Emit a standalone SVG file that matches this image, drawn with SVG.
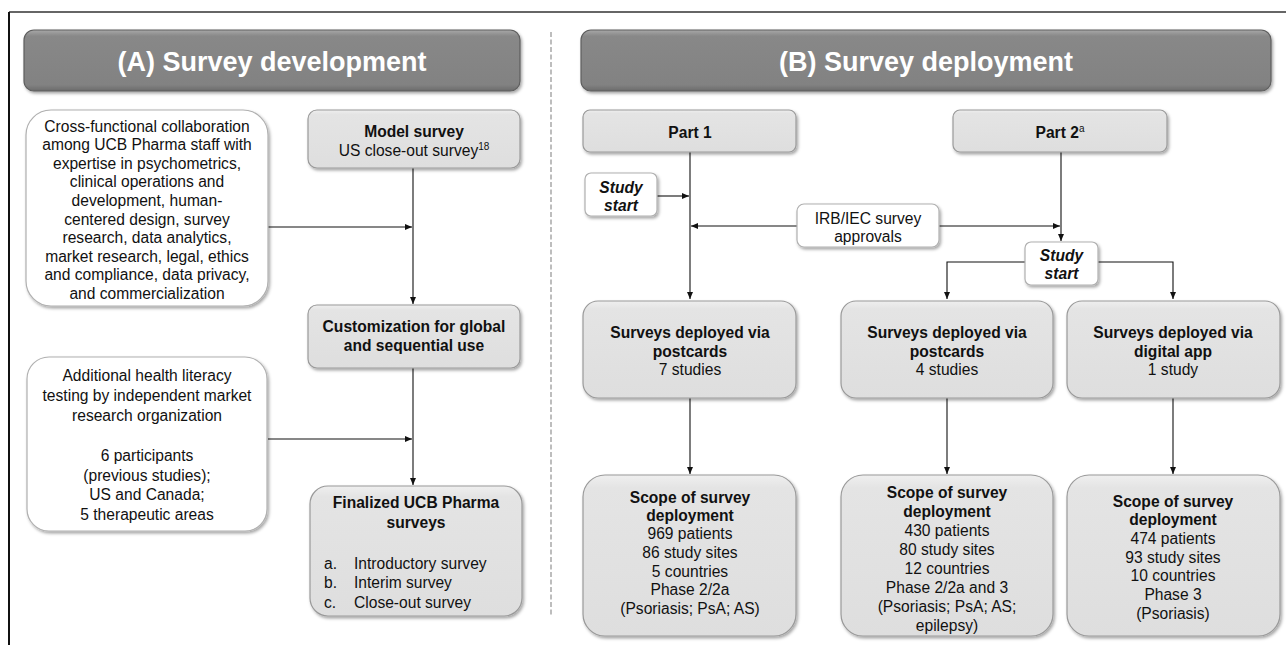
<svg xmlns="http://www.w3.org/2000/svg" width="1286" height="645" viewBox="0 0 1286 645">
<style>
text{font-family:"Liberation Sans",Arial,sans-serif;font-size:15.6px;fill:#111;text-anchor:middle}
.b{font-weight:bold}
.bi{font-weight:bold;font-style:italic}
.hdr{font-size:27px;font-weight:bold;fill:#fff}
.gbox{fill:url(#gg);stroke:#9a9a9a;stroke-width:1.2;filter:url(#sh)}
.wbox{fill:#fff;stroke:#b0b0b0;stroke-width:1.2;filter:url(#sh)}
.hbox{fill:url(#hg);stroke:#5e5e5e;stroke-width:1.2;filter:url(#sh)}
.c{fill:none;stroke:#111;stroke-width:1.1;marker-end:url(#ah)}
.s{text-anchor:start}
</style>
<defs>
<linearGradient id="gg" x1="0" y1="0" x2="0" y2="1">
<stop offset="0" stop-color="#efefef"/><stop offset="0.08" stop-color="#e4e4e4"/><stop offset="1" stop-color="#dedede"/>
</linearGradient>
<linearGradient id="hg" x1="0" y1="0" x2="0" y2="1">
<stop offset="0" stop-color="#a8a8a8"/><stop offset="0.1" stop-color="#888"/><stop offset="0.9" stop-color="#828282"/><stop offset="1" stop-color="#6a6a6a"/>
</linearGradient>
<filter id="sh" x="-5%" y="-10%" width="112%" height="125%">
<feDropShadow dx="1.5" dy="2" stdDeviation="1.5" flood-color="#000" flood-opacity="0.35"/>
</filter>
<marker id="ah" markerWidth="8" markerHeight="8" refX="7" refY="4" orient="auto" markerUnits="userSpaceOnUse">
<path d="M0,1 L7,4 L0,7 Z" fill="#111"/>
</marker>
</defs>
<rect x="0" y="0" width="1286" height="645" fill="#fff"/>
<g id="frame">
<line x1="9" y1="12" x2="1286" y2="12" stroke="#333" stroke-width="1.5"/>
<line x1="9" y1="12" x2="9" y2="645" stroke="#111" stroke-width="2"/>
<line x1="551" y1="32" x2="551" y2="615" stroke="#bdbdbd" stroke-width="2" stroke-dasharray="5,2.5"/>
</g>
<g id="connectors">
<path class="c" d="M413,168 V304"/>
<path class="c" d="M268,227 H412"/>
<path class="c" d="M413,368 V485"/>
<path class="c" d="M268,439 H412"/>
<path class="c" d="M690,152 V299"/>
<path class="c" d="M657,196 H689"/>
<path class="c" d="M797,226 H691"/>
<path class="c" d="M939,226 H1060"/>
<path class="c" d="M1061,152 V241"/>
<path class="c" d="M1025,262 H947 V299"/>
<path class="c" d="M1098,262 H1173 V299"/>
<path class="c" d="M690,398 V474"/>
<path class="c" d="M947,398 V474"/>
<path class="c" d="M1173,398 V474"/>
</g>
<g id="headerA">
<rect class="hbox" x="24" y="30" width="496" height="61" rx="10"/>
<text class="hdr" x="272" y="71">(A) Survey development</text>
</g>
<g id="headerB">
<rect class="hbox" x="581" y="30" width="690" height="61" rx="10"/>
<text class="hdr" x="926" y="71">(B) Survey deployment</text>
</g>
<g id="crossfunctional">
<rect class="wbox" x="26" y="110" width="242" height="196" rx="25"/>
<text x="147" y="131.5">Cross-functional collaboration</text>
<text x="147" y="150.1">among UCB Pharma staff with</text>
<text x="147" y="168.7">expertise in psychometrics,</text>
<text x="147" y="187.3">clinical operations and</text>
<text x="147" y="205.9">development, human-</text>
<text x="147" y="224.5">centered design, survey</text>
<text x="147" y="243.1">research, data analytics,</text>
<text x="147" y="261.7">market research, legal, ethics</text>
<text x="147" y="280.3">and compliance, data privacy,</text>
<text x="147" y="298.9">and commercialization</text>
</g>
<g id="modelsurvey">
<rect class="gbox" x="308" y="110" width="212" height="58" rx="9"/>
<text class="b" x="414" y="137">Model survey</text>
<text x="414" y="156">US close-out survey<tspan font-size="10" dy="-6">18</tspan></text>
</g>
<g id="customization">
<rect class="gbox" x="308" y="305" width="212" height="63" rx="9"/>
<text class="b" x="414" y="331.5">Customization for global</text>
<text class="b" x="414" y="351">and sequential use</text>
</g>
<g id="healthliteracy">
<rect class="wbox" x="27" y="357" width="240" height="174" rx="22"/>
<text x="147" y="380.5">Additional health literacy</text>
<text x="147" y="400.5">testing by independent market</text>
<text x="147" y="420.5">research organization</text>
<text x="147" y="460.5">6 participants</text>
<text x="147" y="480.5">(previous studies);</text>
<text x="147" y="500">US and Canada;</text>
<text x="147" y="520">5 therapeutic areas</text>
</g>
<g id="finalized">
<rect class="gbox" x="310" y="486" width="212" height="130" rx="18"/>
<text class="b" x="416" y="507.5">Finalized UCB Pharma</text>
<text class="b" x="416" y="527.5">surveys</text>
<text class="s" x="324" y="568.5">a.</text><text class="s" x="354" y="568.5">Introductory survey</text>
<text class="s" x="324" y="588">b.</text><text class="s" x="354" y="588">Interim survey</text>
<text class="s" x="324" y="607.5">c.</text><text class="s" x="354" y="607.5">Close-out survey</text>
</g>
<g id="part1">
<rect class="gbox" x="583" y="110" width="213" height="42" rx="7"/>
<text class="b" x="690" y="137.5">Part 1</text>
</g>
<g id="part2">
<rect class="gbox" x="953" y="110" width="214" height="42" rx="7"/>
<text class="b" x="1060" y="137.5">Part 2<tspan font-size="10" font-weight="normal" dy="-6">a</tspan></text>
</g>
<g id="studystart1">
<rect class="wbox" x="585" y="173" width="72" height="43" rx="6"/>
<text class="bi" x="621" y="192.5">Study</text>
<text class="bi" x="621" y="210.5">start</text>
</g>
<g id="irb">
<rect class="wbox" x="797" y="204" width="142" height="43" rx="7"/>
<text x="868" y="223.5">IRB/IEC survey</text>
<text x="868" y="242">approvals</text>
</g>
<g id="studystart2">
<rect class="wbox" x="1025" y="242" width="73" height="43" rx="6"/>
<text class="bi" x="1061.5" y="260.5">Study</text>
<text class="bi" x="1061.5" y="279">start</text>
</g>
<g id="postcards1">
<rect class="gbox" x="583" y="301" width="213" height="97" rx="15"/>
<text class="b" x="690" y="337.5">Surveys deployed via</text>
<text class="b" x="690" y="356.5">postcards</text>
<text x="690" y="374.5">7 studies</text>
</g>
<g id="postcards2">
<rect class="gbox" x="841" y="301" width="212" height="97" rx="15"/>
<text class="b" x="947" y="337.5">Surveys deployed via</text>
<text class="b" x="947" y="356.5">postcards</text>
<text x="947" y="374.5">4 studies</text>
</g>
<g id="digitalapp">
<rect class="gbox" x="1067" y="301" width="213" height="97" rx="15"/>
<text class="b" x="1173" y="337.5">Surveys deployed via</text>
<text class="b" x="1173" y="356.5">digital app</text>
<text x="1173" y="374.5">1 study</text>
</g>
<g id="scope1">
<rect class="gbox" x="583" y="475" width="213" height="161" rx="22"/>
<text class="b" x="690" y="502.5">Scope of survey</text>
<text class="b" x="690" y="521">deployment</text>
<text x="690" y="539">969 patients</text>
<text x="690" y="557.5">86 study sites</text>
<text x="690" y="576.5">5 countries</text>
<text x="690" y="595">Phase 2/2a</text>
<text x="690" y="613.5">(Psoriasis; PsA; AS)</text>
</g>
<g id="scope2">
<rect class="gbox" x="841" y="475" width="212" height="161" rx="22"/>
<text class="b" x="947" y="497.5">Scope of survey</text>
<text class="b" x="947" y="516.5">deployment</text>
<text x="947" y="535.5">430 patients</text>
<text x="947" y="554.5">80 study sites</text>
<text x="947" y="573.5">12 countries</text>
<text x="947" y="592.5">Phase 2/2a and 3</text>
<text x="947" y="611.5">(Psoriasis; PsA; AS;</text>
<text x="947" y="630.5">epilepsy)</text>
</g>
<g id="scope3">
<rect class="gbox" x="1067" y="475" width="213" height="161" rx="22"/>
<text class="b" x="1173" y="506.5">Scope of survey</text>
<text class="b" x="1173" y="525">deployment</text>
<text x="1173" y="543.5">474 patients</text>
<text x="1173" y="562.5">93 study sites</text>
<text x="1173" y="581">10 countries</text>
<text x="1173" y="599.5">Phase 3</text>
<text x="1173" y="618.5">(Psoriasis)</text>
</g>
</svg>
